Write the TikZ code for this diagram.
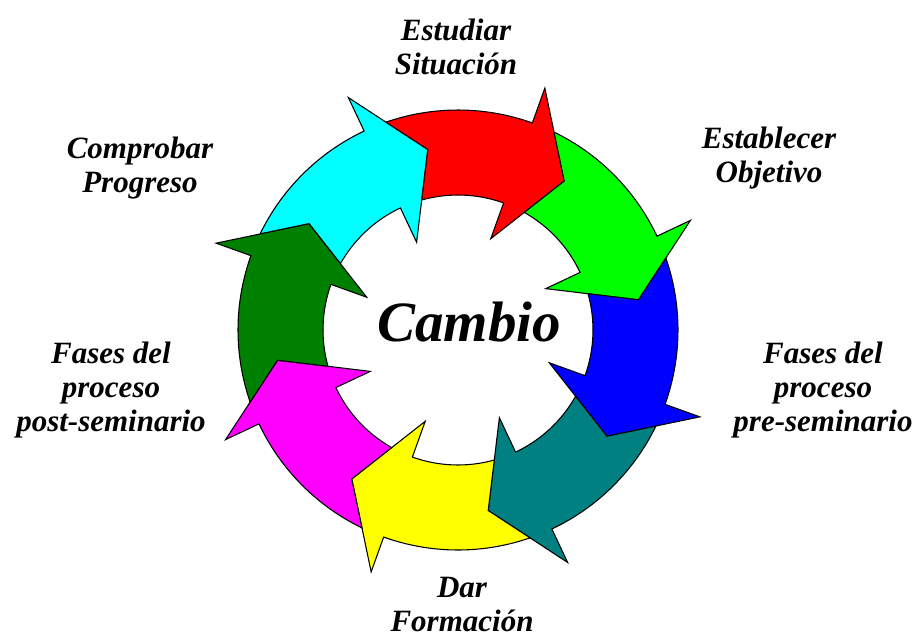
\documentclass[tikz,border=0pt]{standalone}
\usepackage{fontspec}
\setmainfont{Liberation Serif}
\usepackage{tikz}
\definecolor{segred}{RGB}{255,0,0}
\definecolor{seggreen}{RGB}{0,255,0}
\definecolor{segblue}{RGB}{0,0,255}
\definecolor{segteal}{RGB}{0,128,128}
\definecolor{segyellow}{RGB}{255,255,0}
\definecolor{segmagenta}{RGB}{255,0,255}
\definecolor{segdarkgreen}{RGB}{0,128,0}
\definecolor{segcyan}{RGB}{0,255,255}
\tikzstyle{segment} = [draw=black, 
line width=0.8pt, 
line join=miter]
\tikzstyle{stage} = [align=center, 
inner sep=0pt, 
font=\fontsize{23.25}{25.5}\selectfont\bfseries\itshape]
\tikzstyle{core} = [inner sep=0pt, 
anchor=base, 
font=\fontsize{42.75}{48}\selectfont\bfseries\itshape]

\begin{document}
\begin{tikzpicture}[x=0.75pt, y=0.75pt]
\useasboundingbox (-458,-307) rectangle (458,330);

% eight curved arrows, clockwise
\foreach \ang/\col in {115.25/segcyan, 70.25/segred, 25.25/seggreen, -19.75/segblue,
  -64.75/segteal, -109.75/segyellow, -154.75/segmagenta, -199.75/segdarkgreen}
  \draw [segment, fill=\col, rotate=\ang] (38.87:220) arc[start angle=38.87, end angle=0, radius=220]
    -- (0:257) -- (-15.75:183) -- (0:97) -- (0:135)
    arc[start angle=0, end angle=35.34, radius=135] -- (29.25:183) -- cycle;

\node (cambio) [core] at (11,-11.7) {Cambio};

\node (estudiar) [stage] at (-2,283) {Estudiar\\Situación};
\node (establecer) [stage] at (311,172) {Establecer\\Objetivo};
\node (pre) [stage] at (365,-60.5) {Fases del\\proceso\\pre-seminario};
\node (dar) [stage] at (4,-274.5) {Dar\\Formación};
\node (post) [stage] at (-347,-60.5) {Fases del\\proceso\\post-seminario};
\node (comprobar) [stage] at (-318,161.5) {Comprobar\\Progreso};

\end{tikzpicture}
\end{document}
